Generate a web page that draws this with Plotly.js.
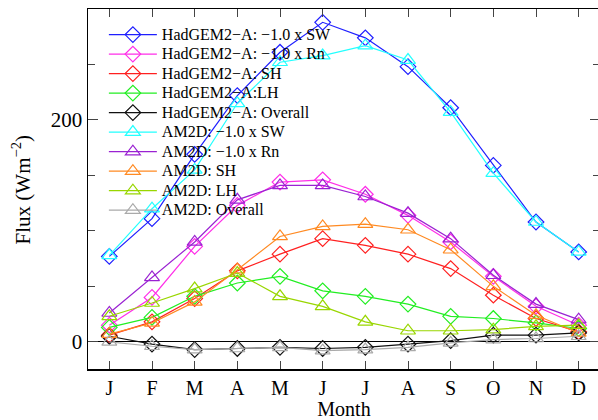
<!DOCTYPE html>
<html>
<head>
<meta charset="utf-8">
<script src="https://cdn.plot.ly/plotly-3.0.1.min.js"></script>
<style>
html,body{margin:0;padding:0;overflow:hidden;background:#fff;}
#chart{width:600px;height:420px;}
</style>
</head>
<body>
<div id="chart"></div>
<script>
const months = [1,2,3,4,5,6,7,8,9,10,11,12];
const monthLabels = ["J","F","M","A","M","J","J","A","S","O","N","D"];

const hadSW      = [77, 111, 169, 222, 261, 288, 274, 248, 211, 159, 108, 81];
const hadRn      = [15, 40, 86, 123, 144, 146, 133, 114, 90, 59, 32, 15];
const hadSH      = [6, 18, 39, 64, 79, 93, 87, 79, 66, 42, 21, 9];
const hadLH      = [13, 22, 41, 53, 59, 46, 41, 34, 23, 21, 17, 12];
const hadOverall = [5, -2, -7, -6, -5, -6, -5, -2, 1, 6, 6, 8];

const amSW       = [78, 120, 155, 215, 252, 258, 267, 254, 207, 152, 108, 81];
const amRn       = [26, 58, 90, 128, 141, 141, 131, 116, 93, 60, 34, 20];
const amSH       = [7, 17, 36, 65, 95, 104, 106, 101, 83, 50, 24, 8];
const amLH       = [23, 35, 48, 62, 41, 32, 18, 10, 10, 11, 14, 15];
const amOverall  = [0, -4, -7, -6, -5, -8, -7, -5, -1, 2, 3, 5];

const seriesNames = [
  "HadGEM2\u2212A: \u22121.0 x SW",
  "HadGEM2\u2212A: \u22121.0 x Rn",
  "HadGEM2\u2212A: SH",
  "HadGEM2\u2212A:LH",
  "HadGEM2\u2212A: Overall",
  "AM2D: \u22121.0 x SW",
  "AM2D: \u22121.0 x Rn",
  "AM2D: SH",
  "AM2D: LH",
  "AM2D: Overall"
];
const seriesData = [hadSW, hadRn, hadSH, hadLH, hadOverall, amSW, amRn, amSH, amLH, amOverall];
const colors = ["#1f1fff","#ff2ee8","#ff2020","#22ee22","#111111","#22ffff","#9a22d2","#ff8a22","#99d600","#aaaaaa"];
const symbols = ["diamond-open","diamond-open","diamond-open","diamond-open","diamond-open",
                 "triangle-up-open","triangle-up-open","triangle-up-open","triangle-up-open","triangle-up-open"];

const traces = seriesData.map((d, i) => ({
  x: months, y: d,
  name: '<span style="font-size:16px">' + seriesNames[i] + '</span>',
  type: "scatter", mode: "lines+markers",
  line: {color: colors[i], width: 1.2},
  marker: {symbol: symbols[i], size: i < 5 ? 12 : 13, color: colors[i], line: {width: 1.2, color: colors[i]}}
}));

const serif = "Liberation Serif, Times New Roman, serif";

const layout = {
  width: 600, height: 420,
  margin: {l: 88, r: 0, t: 9, b: 51},
  paper_bgcolor: "#fff", plot_bgcolor: "#fff",
  showlegend: true,
  legend: {x: 0.031, y: 0.97, xanchor: "left", yanchor: "top", bgcolor: "rgba(0,0,0,0)",
           font: {family: serif, size: 12.7, color: "#000"}, itemwidth: 48, tracegroupgap: 0},
  xaxis: {
    range: [0.5, 12.5], tickvals: months, ticktext: monthLabels,
    ticks: "inside", ticklen: 8, tickcolor: "#444", tickwidth: 1,
    showline: true, linecolor: "#000", linewidth: 1.5, mirror: "ticks",
    showgrid: false, zeroline: false,
    tickfont: {family: serif, size: 20, color: "#000"},
    title: {text: "Month", font: {family: serif, size: 20, color: "#000"}, standoff: 5}
  },
  yaxis: {
    range: [-24.5, 300], tickvals: [0, 200], ticktext: ["0", "200"],
    ticks: "inside", ticklen: 10, tickcolor: "#444", tickwidth: 1,
    minor: {dtick: 50, tick0: 0, ticks: "inside", ticklen: 7, tickcolor: "#444", showgrid: false},
    showline: true, linecolor: "#000", linewidth: 1.5, mirror: "ticks",
    showgrid: false, zeroline: true, zerolinecolor: "#000", zerolinewidth: 1,
    tickfont: {family: serif, size: 21, color: "#000"}
  },
  annotations: [{
    text: "Flux (Wm<sup>\u22122</sup>)", xref: "paper", yref: "paper",
    x: -0.13, y: 0.5, xanchor: "center", yanchor: "middle", textangle: -90, showarrow: false,
    font: {family: serif, size: 21, color: "#000"}
  }]
};

Plotly.newPlot("chart", traces, layout, {displayModeBar: false, staticPlot: true});
</script>
</body>
</html>
